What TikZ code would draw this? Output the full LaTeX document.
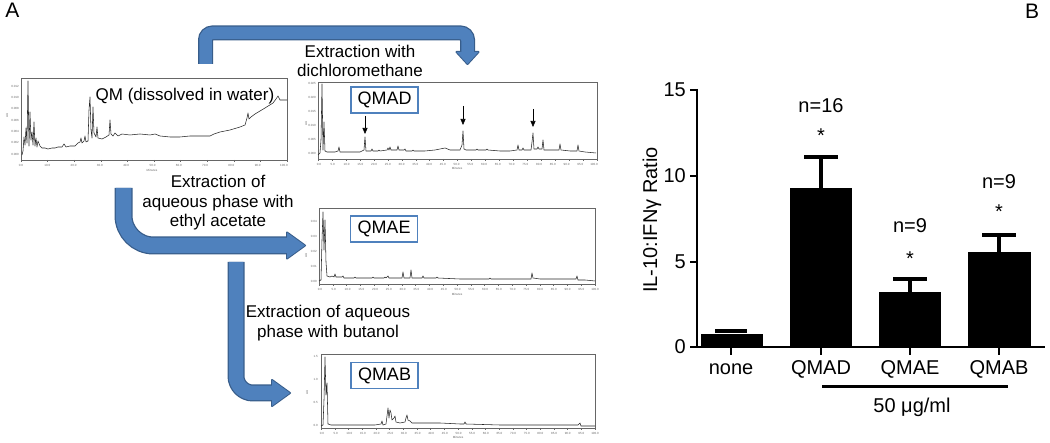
\documentclass[tikz,border=0pt]{standalone}
\usepackage{fontspec}
\setmainfont{Liberation Sans}
\usetikzlibrary{arrows.meta}
\definecolor{arrowblue}{HTML}{4F81BD}
\definecolor{arrowedge}{HTML}{385D8A}

\begin{document}
\begin{tikzpicture}[x=1pt,y=-1pt,
  frame/.style={draw=black!60,line width=0.6pt},
  trace/.style={black!85,line width=0.55pt,line join=round},
  ticklbl/.style={font=\fontsize{3}{3}\selectfont,text=black!60,inner sep=0pt},
  tagbox/.style={draw=arrowblue,line width=1.8pt,fill=white,font=\fontsize{18}{18}\selectfont,minimum width=67pt,minimum height=26pt,inner sep=0pt},
  steptext/.style={font=\fontsize{17}{19.5}\selectfont,align=center,inner sep=0pt},
  btext/.style={font=\fontsize{20}{20}\selectfont,inner sep=0pt},
  pipeedge/.style={draw=arrowedge,line cap=butt},
  pipefill/.style={draw=arrowblue,line cap=butt},
  errbar/.style={line width=3.5pt}]
\useasboundingbox (0,0) rectangle (1050,443);

% panel letters
\node[font=\fontsize{21}{21}\selectfont,inner sep=0pt] (panelA) at (12.5,10) {A};
\node[font=\fontsize{21}{21}\selectfont,inner sep=0pt] (panelB) at (1032,11) {B};

% chromatogram frames
\draw[frame] (21,78) rectangle (287,160);
\draw[frame] (318,82) rectangle (597,159);
\draw[frame] (319,208) rectangle (595,284);
\draw[frame] (321,354) rectangle (595,428);

% tick labels of the chromatograms
\foreach \v [count=\i from 0] in {0.0,10.0,20.0,30.0,40.0,50.0,60.0,70.0,80.0,90.0,100.0}
  {\draw[black!60,line width=0.3pt] (21+26.6*\i,160) -- (21+26.6*\i,162);
   \node[ticklbl] (qmx\i) at (21+26.3*\i,165) {\v};}
\foreach \v [count=\i from 0] in {0.000,0.002,0.004,0.006,0.008,0.010,0.012}
  \node[ticklbl,anchor=east] (qmy\i) at (19,154-11.3*\i) {\v};
\node[ticklbl] (qmmin) at (152,170) {Minutes};
\node[ticklbl,rotate=90] (qmau) at (7,115) {AU};

\foreach \v [count=\i from 0] in {0.0,5.0,10.0,15.0,20.0,25.0,30.0,35.0,40.0,45.0,50.0,55.0,60.0,65.0,70.0,75.0,80.0,85.0,90.0,95.0,100.0}
  {\draw[black!60,line width=0.3pt] (318+13.95*\i,159) -- (318+13.95*\i,161);
   \node[ticklbl] (adx\i) at (319+13.75*\i,164) {\v};
   \draw[black!60,line width=0.3pt] (319+13.8*\i,284) -- (319+13.8*\i,286);
   \node[ticklbl] (aex\i) at (320+13.75*\i,289) {\v};
   \draw[black!60,line width=0.3pt] (321+13.7*\i,428) -- (321+13.7*\i,430);
   \node[ticklbl] (abx\i) at (322+13.65*\i,433) {\v};}
\foreach \v [count=\i from 0] in {0.000,0.005,0.010,0.015,0.020,0.025}
  \node[ticklbl,anchor=east] (ady\i) at (316,153-14*\i) {\v};
\foreach \v [count=\i from 0] in {0.00,0.01,0.02,0.03,0.04}
  \node[ticklbl,anchor=east] (aey\i) at (317,281-14.8*\i) {\v};
\foreach \v [count=\i from 0] in {0.0,0.5,1.0,1.5}
  \node[ticklbl,anchor=east] (aby\i) at (318,425-22.7*\i) {\v};
\node[ticklbl] (admin) at (457,168) {Minutes};
\node[ticklbl] (aemin) at (457,294) {Minutes};
\node[ticklbl] (abmin) at (458,437) {Minutes};
\node[ticklbl,rotate=90] (adau) at (306,123) {AU};
\node[ticklbl,rotate=90] (aeau) at (306,255) {AU};
\node[ticklbl,rotate=90] (abau) at (307,392) {AU};

% traces
\draw[trace] plot coordinates {(22,155) (23,151) (24,137) (25,145) (26,128) (27,143) (28,81) (29,146) (30,112) (31,140) (32,132) (33,145) (34,122) (35,146) (36,138) (37,147) (38,141) (40,146) (42,148) (45,148) (48,149) (52,148) (55,148) (58,147) (62,147) (64,144) (66,147) (70,146) (75,146) (78,143) (80,142) (81,138) (82,143) (84,141) (85,136) (86,142) (88,141) (89,110) (90,97) (91,130) (92,138) (93,107) (94,133) (96,137) (97,127) (98,138) (102,139) (106,137) (109,135) (110,120) (111,134) (113,136) (115,133) (118,136) (122,134) (130,135) (140,134) (150,135) (155,134) (160,136) (170,137) (180,137) (190,136) (200,136) (210,136) (214,134) (220,132) (230,130) (240,127) (245,125) (247,118) (248,113) (249,119) (251,117) (255,114) (265,108) (273,103) (276,99) (278,96) (280,100) (287,100)};
\draw[trace] plot coordinates {(318,155) (320,153) (321,140) (322,84) (323,150) (324,122) (325,151) (327,152) (330,152) (335,152) (338,151) (339,147) (340,152) (350,152) (360,152) (364,150) (365,137) (366,151) (371,151) (372,149) (373,151) (378,151) (379,150) (380,151) (387,150) (388,148) (389,150) (390,147) (391,150) (397,150) (398,146) (399,150) (404,150) (405,149) (406,151) (412,151) (413,150) (414,151) (425,151) (435,150) (440,149) (445,148) (450,150) (460,150) (462,145) (463,131) (464,149) (466,150) (476,150) (477,149) (478,150) (486,150) (487,149) (488,150) (500,151) (510,151) (517,150) (518,145) (519,150) (522,150) (523,148) (524,150) (531,150) (532,142) (533,133) (534,149) (537,149) (538,147) (539,149) (542,149) (543,140) (544,150) (555,150) (559,150) (560,144) (561,150) (570,151) (577,151) (578,145) (579,151) (585,152) (596,153)};
\draw[trace] plot coordinates {(319,281) (321,280) (322,240) (323,212) (324,250) (325,220) (326,262) (327,276) (330,277) (332,276) (334,277) (335,274) (336,277) (342,277) (343,276) (344,278) (354,278) (355,277) (356,278) (372,278) (373,277) (374,278) (384,278) (385,277) (386,278) (388,276) (389,278) (402,278) (403,272) (404,278) (406,278) (410,278) (411,270) (412,278) (422,278) (423,276) (424,278) (436,278) (437,277) (438,278) (460,279) (489,279) (490,278) (491,279) (520,279) (531,279) (532,273) (533,278) (540,279) (570,279) (576,279) (577,276) (578,280) (585,280) (595,281)};
\draw[trace] plot coordinates {(321,426) (323,425) (324,400) (325,357) (326,395) (327,383) (328,424) (331,425) (340,425) (360,425) (375,425) (381,424) (382,421) (383,425) (386,424) (387,416) (388,408) (389,418) (390,410) (391,413) (392,420) (394,418) (395,416) (396,422) (400,423) (405,422) (406,418) (407,415) (408,420) (410,421) (412,423) (420,423) (440,423) (460,424) (464,424) (465,422) (466,424) (500,425) (540,425) (578,425) (580,423) (581,426) (595,426)};

% peak markers in QMAD
\coordinate (pk1) at (365,116);
\coordinate (pk1tip) at (365,134);
\coordinate (pk2) at (463,106);
\coordinate (pk2tip) at (463,125);
\coordinate (pk3) at (533,109);
\coordinate (pk3tip) at (533,127);
\draw[line width=0.6pt,-{Triangle[length=6pt,width=5pt]}] (pk1) -- (pk1tip);
\draw[line width=0.6pt,-{Triangle[length=6pt,width=5pt]}] (pk2) -- (pk2tip);
\draw[line width=0.6pt,-{Triangle[length=6pt,width=5pt]}] (pk3) -- (pk3tip);

% sample tags
\node[font=\fontsize{17}{17}\selectfont,inner sep=0pt] (qmText) at (185,96) {QM (dissolved in water)};
\node[tagbox] (qmadTag) at (384.5,100) {QMAD};
\node[tagbox] (qmaeTag) at (384,229) {QMAE};
\node[tagbox] (qmabTag) at (384.5,375.5) {QMAB};

% extraction arrows
\coordinate (qmOut) at (205.5,64);
\coordinate (qmadIn) at (467.5,64);
\coordinate (qmOut2) at (123.5,188);
\coordinate (qmaeIn) at (305,245.5);
\coordinate (aeOut) at (236,262);
\coordinate (qmabIn) at (290,393);

\draw[pipeedge,line width=15pt,rounded corners=7pt] (qmOut) -- ++(0,-31) -| ([yshift=12pt]qmadIn);
\filldraw[arrowedge,line width=2pt,line join=round] ([yshift=12pt,xshift=-11pt]qmadIn) -- ([yshift=12pt,xshift=11pt]qmadIn) -- (qmadIn) -- cycle;
\draw[pipefill,line width=12.5pt,rounded corners=7pt] (qmOut) -- ++(0,-31) -| ([yshift=12pt]qmadIn);
\fill[arrowblue] ([yshift=12pt,xshift=-11pt]qmadIn) -- ([yshift=12pt,xshift=11pt]qmadIn) -- (qmadIn) -- cycle;

\draw[pipeedge,line width=18pt,rounded corners=30pt] (qmOut2) |- ([xshift=-18pt]qmaeIn);
\filldraw[arrowedge,line width=2pt,line join=round] ([xshift=-18pt,yshift=13pt]qmaeIn) -- ([xshift=-18pt,yshift=-13pt]qmaeIn) -- (qmaeIn) -- cycle;
\draw[pipefill,line width=15.5pt,rounded corners=30pt] (qmOut2) |- ([xshift=-18pt]qmaeIn);
\fill[arrowblue] ([xshift=-18pt,yshift=13pt]qmaeIn) -- ([xshift=-18pt,yshift=-13pt]qmaeIn) -- (qmaeIn) -- cycle;

\draw[pipeedge,line width=17pt,rounded corners=17pt] (aeOut) |- ([xshift=-18pt]qmabIn);
\filldraw[arrowedge,line width=2pt,line join=round] ([xshift=-18pt,yshift=13pt]qmabIn) -- ([xshift=-18pt,yshift=-13pt]qmabIn) -- (qmabIn) -- cycle;
\draw[pipefill,line width=14.5pt,rounded corners=17pt] (aeOut) |- ([xshift=-18pt]qmabIn);
\fill[arrowblue] ([xshift=-18pt,yshift=13pt]qmabIn) -- ([xshift=-18pt,yshift=-13pt]qmabIn) -- (qmabIn) -- cycle;

\node[steptext] (dcmText) at (360,61) {Extraction with\\dichloromethane};
\node[steptext] (eaText) at (218,203) {Extraction of\\aqueous phase with\\ethyl acetate};
\node[steptext] (buText) at (328,323) {Extraction of aqueous\\phase with butanol};

% panel B: bar chart
\fill (701,347) rectangle (763,334);
\fill (790,347) rectangle (852,188);
\fill (879,347) rectangle (941,292);
\fill (968,347) rectangle (1031,252);
\draw[errbar] (715,331) -- (747,331);
\draw[errbar] (821,188) -- (821,157);
\draw[errbar] (804,157) -- (838,157);
\draw[errbar] (910,292) -- (910,279);
\draw[errbar] (893,279) -- (927,279);
\draw[errbar] (999,252) -- (999,235);
\draw[errbar] (982,235) -- (1016,235);

\draw[line width=2.5pt] (697,89) -- (697,347) -- (1045,347);
\draw[line width=2.5pt] (697,90) -- (690,90);
\draw[line width=2.5pt] (697,176) -- (690,176);
\draw[line width=2.5pt] (697,262) -- (690,262);
\draw[line width=2.5pt] (697,347) -- (690,347);
\draw[line width=2.5pt] (731,347) -- (731,355);
\draw[line width=2.5pt] (821,347) -- (821,355);
\draw[line width=2.5pt] (910,347) -- (910,355);
\draw[line width=2.5pt] (999,347) -- (999,355);

\node[btext,anchor=east] (yt15) at (686,90) {15};
\node[btext,anchor=east] (yt10) at (686,176) {10};
\node[btext,anchor=east] (yt5) at (686,262) {5};
\node[btext,anchor=east] (yt0) at (686,347) {0};
\node[btext,rotate=90] (ylab) at (652,220) {IL-10:IFNγ Ratio};

\node[btext] (lblNone) at (731,369) {none};
\node[btext] (lblQmad) at (821,369) {QMAD};
\node[btext] (lblQmae) at (910,369) {QMAE};
\node[btext] (lblQmab) at (999,369) {QMAB};

\node[btext] (nQmad) at (821,106) {n=16};
\node[btext] (sQmad) at (821,136) {*};
\node[btext] (nQmae) at (910,226) {n=9};
\node[btext] (sQmae) at (910,259) {*};
\node[btext] (nQmab) at (999,182) {n=9};
\node[btext] (sQmab) at (999,212) {*};

\draw[line width=3pt] (822,387) -- (1008,387);
\node[btext] (doseText) at (912,407) {50 μg/ml};
\end{tikzpicture}
\end{document}
